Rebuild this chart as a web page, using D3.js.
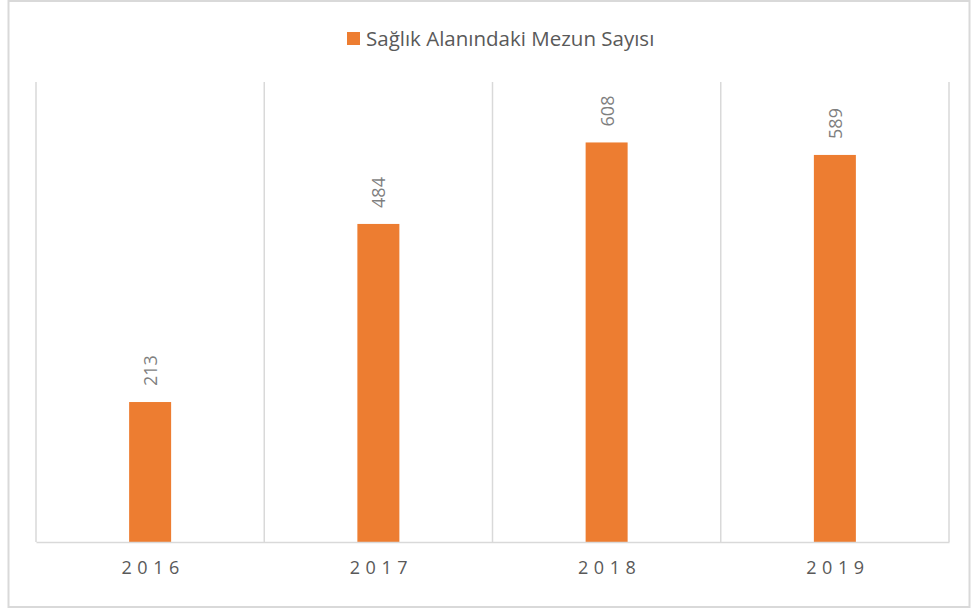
<!DOCTYPE html>
<html>
<head>
<meta charset="utf-8">
<script src="https://cdn.jsdelivr.net/npm/d3@7"></script>
<style>
  body { margin: 0; background: #fff; }
  svg text { font-family: "Open Sans", "Noto Sans", sans-serif; }
</style>
</head>
<body>
<div id="chart"></div>
<script>
// chart data
const years = ["2016", "2017", "2018", "2019"];
const graduates = [213, 484, 608, 589];
const seriesName = "Sağlık Alanındaki Mezun Sayısı";

const W = 972, H = 609;
const margin = {top: 82, right: 23, bottom: 67, left: 36};
const orange = "#ed7d31";

const svg = d3.select("#chart").append("svg")
    .attr("width", W)
    .attr("height", H);

// outer chart border
svg.append("rect")
    .attr("x", 8.5).attr("y", 1)
    .attr("width", 961).attr("height", 606)
    .attr("fill", "none")
    .attr("stroke", "#d9d9d9")
    .attr("stroke-width", 2);

const x = d3.scaleBand()
    .domain(years)
    .range([margin.left, W - margin.right])
    .paddingInner(0).paddingOuter(0);

const y = d3.scaleLinear()
    .domain([0, 700])
    .range([H - margin.bottom, margin.top]);

// vertical grid lines between categories
const edges = years.map(d => x(d)).concat([x.range()[1]]);
svg.append("g").selectAll("line")
    .data(edges)
    .join("line")
    .attr("x1", d => d).attr("x2", d => d)
    .attr("y1", y(700)).attr("y2", y(0))
    .attr("stroke", "#d9d9d9")
    .attr("stroke-width", 1.5);

// bars
const barW = 42;
svg.append("g").selectAll("rect")
    .data(graduates)
    .join("rect")
    .attr("x", (d, i) => x(years[i]) + x.bandwidth() / 2 - barW / 2)
    .attr("y", d => y(d))
    .attr("width", barW)
    .attr("height", d => y(0) - y(d))
    .attr("fill", orange);

// value labels, rotated
svg.append("g").selectAll("text")
    .data(graduates)
    .join("text")
    .attr("transform", (d, i) => `translate(${x(years[i]) + x.bandwidth() / 2 + 7}, ${y(d) - 16}) rotate(-90)`)
    .attr("text-anchor", "start")
    .attr("font-size", 18)
    .attr("fill", "#7f7f7f")
    .text(d => d);

// x axis
const xAxis = svg.append("g")
    .attr("transform", `translate(0, ${y(0)})`)
    .call(d3.axisBottom(x).tickSize(0).tickPadding(19));
xAxis.select(".domain").attr("stroke", "#d9d9d9").attr("stroke-width", 1.5);
xAxis.selectAll("text")
    .attr("font-size", 18)
    .attr("fill", "#595959")
    .style("letter-spacing", "5.5px")
    .attr("dx", 3);

// legend
const legend = svg.append("g").attr("transform", "translate(347, 32)");
legend.append("rect")
    .attr("width", 13).attr("height", 13)
    .attr("fill", orange);
legend.append("text")
    .attr("x", 19).attr("y", 14)
    .attr("font-size", 20.5)
    .attr("fill", "#595959")
    .text(seriesName);
</script>
</body>
</html>
